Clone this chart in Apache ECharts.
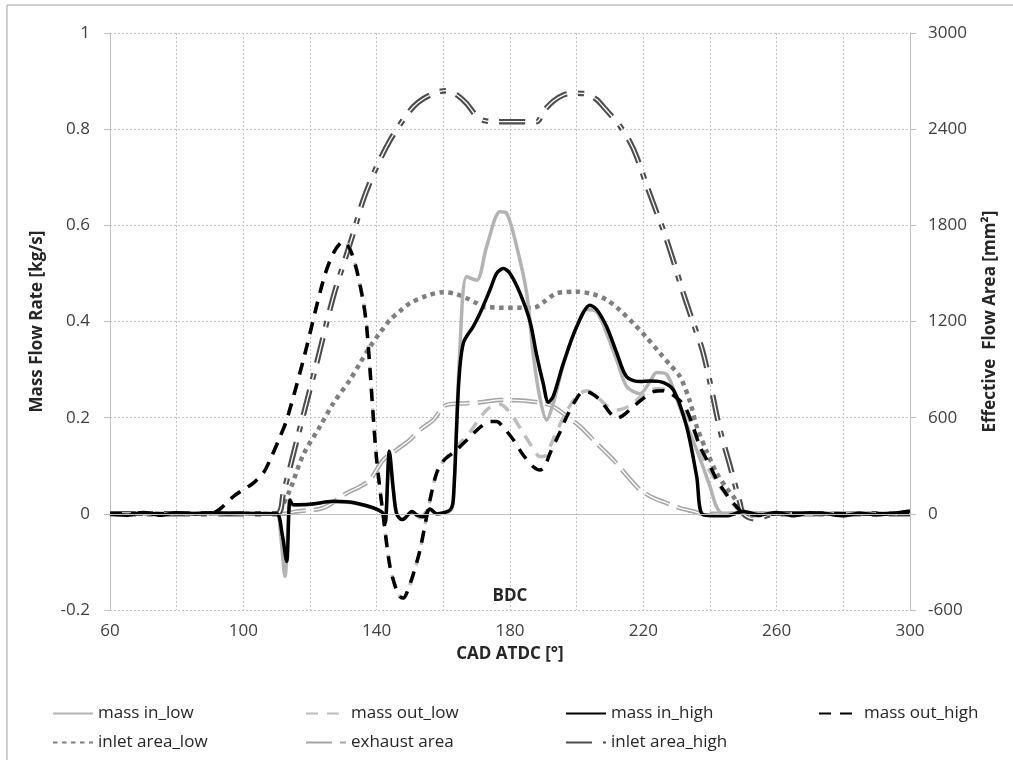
<!DOCTYPE html>
<html>
<head>
<meta charset="utf-8">
<script src="https://cdn.jsdelivr.net/npm/echarts@6/dist/echarts.min.js"></script>
<style>
html,body{margin:0;padding:0;background:#fff;}
#chart{width:1013px;height:760px;}
</style>
</head>
<body>
<div id="chart"></div>
<script>
// ---------------- DATA ----------------
// Crank angle (CAD ATDC) and mass flow rates [kg/s] (left axis)
var massInLowX  = [60,70,80,90,100,110,111,112.5,114,115,120,127,134,141.5,142.5,143.8,145,146,147.6,150.6,153,156,158,162,163,165,167,170,173,177,179,182,185,187,189,191,193,196,200,203,206,209,212,215,219,222,224,227,231,236,240,242,244,250,260,270,280,290,300];
var massInLowY  = [0,0,0,0,0,0,-0.03,-0.13,0.02,0.018,0.02,0.025,0.021,0.004,-0.02,0.12,0.05,0.0,-0.012,0.004,-0.008,0.01,0,0.006,0.03,0.348,0.493,0.486,0.556,0.628,0.625,0.556,0.459,0.33,0.24,0.195,0.23,0.31,0.39,0.425,0.42,0.375,0.32,0.265,0.25,0.275,0.294,0.29,0.22,0.133,0.057,0.014,0,0.003,0,-0.003,0.002,0,0.004];

var massOutLowX = [60,70,80,90,93,97,100,103,106,108,111,113,118,124,127,130,132,134,136,137,138,139,140,142,144,146,147,148,149,151,153,156,158,160,164,168,171,174,177,180,184,187,189,190.5,192,196,200,203,206,209,212,216,220,224,227,231,235,239,243,247,250,255,260,270,280,290,300];
var massOutLowY = [0,0,0,0,0.01,0.036,0.05,0.064,0.085,0.112,0.16,0.195,0.32,0.486,0.542,0.568,0.552,0.507,0.44,0.389,0.3,0.2,0.112,-0.006,-0.11,-0.16,-0.172,-0.176,-0.166,-0.125,-0.075,0.029,0.085,0.11,0.14,0.17,0.2,0.222,0.228,0.21,0.168,0.135,0.119,0.12,0.14,0.2,0.245,0.256,0.244,0.225,0.216,0.225,0.248,0.26,0.258,0.232,0.175,0.1,0.057,0.02,0,-0.005,0,0,0,0,0];

var massInHighX = [60,65,70,75,80,85,90,95,100,105,110,111.6,113,114,115,120,127,134,141.5,142.5,143.8,145,146,147.6,148.5,150.6,152,154,156,158,162,163,164.6,166,169,171,174,176,178,180,183,186,188,190,191.5,193,196,200,204,206,209,212,215,219,222,225,229,233,236,238,245,250,255,260,265,270,275,280,285,290,295,300];
var massInHighY = [0,-0.003,0.003,-0.003,0.002,0,0.002,0,0.001,0,0,-0.04,-0.099,0.029,0.019,0.02,0.026,0.022,0.004,-0.02,0.13,0.05,0.0,-0.012,-0.009,0.005,-0.002,-0.006,0.01,0,0.008,0.03,0.27,0.355,0.39,0.417,0.466,0.5,0.51,0.5,0.459,0.4,0.33,0.27,0.232,0.245,0.313,0.389,0.434,0.425,0.389,0.335,0.285,0.275,0.276,0.275,0.258,0.181,0.078,-0.002,-0.004,0.005,-0.002,0.003,-0.004,0.002,0,-0.004,0.001,-0.002,0.001,0.006];

var massOutHighX = [60,70,80,90,93,97,100,103,106,108,111,113,118,124,127,130,132,134,136,137,138,139,140,142,144,146,147,148,149,151,153,156,158,160,164,168,171,174,176,178,181,184,187,189,190.5,192,195,197,200,202,204,207,210,212,214,217,220,223,226,228,231,233,235,237,240,242,245,247,250,255,260,270,280,290,300];
var massOutHighY = [0,0,0,0,0.01,0.036,0.05,0.064,0.085,0.112,0.16,0.195,0.32,0.486,0.542,0.566,0.55,0.507,0.44,0.389,0.3,0.2,0.112,-0.006,-0.11,-0.16,-0.172,-0.175,-0.165,-0.125,-0.075,0.029,0.085,0.11,0.133,0.16,0.18,0.192,0.192,0.18,0.154,0.122,0.098,0.091,0.1,0.126,0.17,0.202,0.24,0.254,0.252,0.237,0.21,0.199,0.205,0.223,0.24,0.254,0.256,0.251,0.235,0.216,0.18,0.14,0.1,0.071,0.04,0.022,0.002,-0.003,0,0,0,0,0];

// Effective flow areas [mm2] (right axis)
var inletLowX = [60,110,111,114,118,123,127,132,135,138,141,144,147,150,155,160,164,167,170,172,187,190,194,200,205,209,213,217,221,225,228,231,234,236,239,242,245,247,249,251,260,300];
var inletLowY = [0,0,20,150,370,545,690,836,940,1043,1130,1210,1265,1314,1360,1383,1370,1345,1314,1290,1285,1320,1376,1386,1370,1335,1270,1189,1100,1002,930,856,700,545,390,254,160,108,40,0,0,0];

var exhaustX = [60,112,116,124,131,135,138,142,146,150,153,157,159,161,167,172,177,182,187,190,193,197,201,206,211,215,219,223,227,231,235,238,245,300];
var exhaustY = [0,0,15,37,129,170,212,337,400,462,524,586,640,680,690,698,711,708,700,690,669,610,545,440,337,240,150,100,67,35,15,0,0,0];

var inletHighX = [60,110,112,116.6,122,127,131,133,136,140,144,148,151,154,158,161,164,167,170,172,175,188,190,193,196,199,203,206,208,211,213,216,218,221,224,226,229,232,235,237.7,240,243,246,249,250,253,260,300];
var inletHighY = [0,0,129,503,940,1355,1620,1751,1960,2166,2330,2460,2540,2590,2630,2640,2615,2560,2480,2455,2447,2447,2510,2575,2613,2625,2620,2585,2540,2470,2420,2320,2228,2050,1880,1771,1580,1376,1190,1023,820,524,300,67,0,-30,0,0];

var seriesNames = ['mass in_low','mass out_low','mass in_high','mass out_high','inlet area_low','exhaust area','inlet area_high'];
var xTickLabels = [60,100,140,180,220,260,300];
var leftTicks  = [-0.2,0,0.2,0.4,0.6,0.8,1];
var rightTicks = [-600,0,600,1200,1800,2400,3000];

function pairs(xs, ys){ return xs.map(function(x,i){ return [x, ys[i]]; }); }

var FONT = '"Open Sans", sans-serif';

var chart = echarts.init(document.getElementById('chart'), null, {renderer:'canvas'});

function mkLegend(left, top, name){
  return {left:left, top:top, data:[name], itemWidth:40, itemHeight:14, padding:0,
    itemStyle:{color:'rgba(0,0,0,0)', borderWidth:0, borderColor:'rgba(0,0,0,0)'},
    textStyle:{fontFamily:FONT, fontSize:17, color:'#262626'}};
}

function baseLine(name, axis, xs, ys, ls){
  return {name:name, type:'line', yAxisIndex:axis, data:pairs(xs,ys), symbol:'none', showSymbol:false,
    smooth:0.3, lineStyle:ls, itemStyle:{color:ls.color}};
}

var series = [
  baseLine(seriesNames[4], 1, inletLowX, inletLowY, {color:'#7f7f7f', width:4.5, type:[4.5,4.5], cap:'butt'}),
  baseLine(seriesNames[5], 1, exhaustX, exhaustY, {color:'#a6a6a6', width:4.5, type:[26,8]}),
  baseLine(seriesNames[5], 1, exhaustX, exhaustY, {color:'#ffffff', width:1.3, type:[26,8]}),
  baseLine(seriesNames[6], 1, inletHighX, inletHighY, {color:'#4d4d4d', width:5.5, type:[26,11,6,11]}),
  baseLine(seriesNames[6], 1, inletHighX, inletHighY, {color:'#ffffff', width:1.3, type:[26,11,6,11]}),
  baseLine(seriesNames[0], 0, massInLowX, massInLowY, {color:'#b3b3b3', width:3.5}),
  baseLine(seriesNames[1], 0, massOutLowX, massOutLowY, {color:'#bdbdbd', width:3.5, type:[12,9]}),
  baseLine(seriesNames[2], 0, massInHighX, massInHighY, {color:'#000000', width:3.5}),
  baseLine(seriesNames[3], 0, massOutHighX, massOutHighY, {color:'#000000', width:3.5, type:[12,9]})
];
series[2].itemStyle.color = '#a6a6a6';
series[4].itemStyle.color = '#4d4d4d';
series[0].markLine = {silent:true, symbol:'none', label:{show:false}, data:[{yAxis:0}],
  lineStyle:{color:'#bfbfbf', type:'solid', width:1.2}};
series[7].markPoint = {symbol:'rect', symbolSize:1, itemStyle:{color:'rgba(0,0,0,0)'}, silent:true,
  label:{show:true, position:'inside', formatter:'BDC', fontFamily:FONT, fontSize:17, fontWeight:'bold', color:'#262626'},
  data:[{coord:[180,-0.172], value:0}]};

var option = {
  backgroundColor:'#fff',
  animation:false,
  graphic:[{type:'rect', shape:{x:7,y:5,width:1030,height:800}, style:{fill:'none', stroke:'#a0a0a0', lineWidth:1}, silent:true}],
  legend:[
    mkLegend(52, 705, seriesNames[0]),
    mkLegend(305, 705, seriesNames[1]),
    mkLegend(565, 705, seriesNames[2]),
    mkLegend(818, 705, seriesNames[3]),
    mkLegend(52, 734, seriesNames[4]),
    mkLegend(305, 734, seriesNames[5]),
    mkLegend(565, 734, seriesNames[6])
  ],
  grid:{left:110, right:103, top:33, bottom:150, containLabel:false},
  xAxis:{
    type:'value', min:60, max:300, interval:20,
    name:'CAD ATDC [°]', nameLocation:'middle', nameGap:36, nameMoveOverlap:false,
    nameTextStyle:{fontFamily:FONT, fontSize:17, fontWeight:'bold', color:'#262626'},
    axisLine:{show:false, onZero:false},
    axisTick:{show:false},
    axisLabel:{margin:13, fontFamily:FONT, fontSize:17, color:'#404040',
      formatter:function(v){ return xTickLabels.indexOf(v) >= 0 ? String(v) : ''; }},
    splitLine:{show:true, lineStyle:{color:'#c4c4c4', type:[2,2], width:1}}
  },
  yAxis:[{
    type:'value', min:-0.2, max:1, interval:0.2, position:'left',
    name:'Mass Flow Rate [kg/s]', nameLocation:'middle', nameGap:64, nameRotate:90,
    nameTextStyle:{fontFamily:FONT, fontSize:17, fontWeight:'bold', color:'#262626'},
    axisLine:{show:true, onZero:false, lineStyle:{color:'#bfbfbf', width:1}},
    axisTick:{show:true, length:6, lineStyle:{color:'#bfbfbf'}},
    axisLabel:{margin:20, fontFamily:FONT, fontSize:17, color:'#404040',
      formatter:function(v){ var r=Math.round(v*10)/10; return leftTicks.indexOf(r)>=0 ? String(r) : ''; }},
    splitLine:{show:true, lineStyle:{color:'#c4c4c4', type:[2,2], width:1}}
  },{
    type:'value', min:-600, max:3000, interval:600, position:'right',
    name:'Effective  Flow Area [mm²]', nameLocation:'middle', nameGap:72, nameRotate:90,
    nameTextStyle:{fontFamily:FONT, fontSize:17, fontWeight:'bold', color:'#262626'},
    axisLine:{show:true, onZero:false, lineStyle:{color:'#bfbfbf', width:1}},
    axisTick:{show:true, length:6, lineStyle:{color:'#bfbfbf'}},
    axisLabel:{margin:18, fontFamily:FONT, fontSize:17, color:'#404040',
      formatter:function(v){ return rightTicks.indexOf(v)>=0 ? String(v) : ''; }},
    splitLine:{show:false}
  }],
  series:series
};
chart.setOption(option);
</script>
</body>
</html>
